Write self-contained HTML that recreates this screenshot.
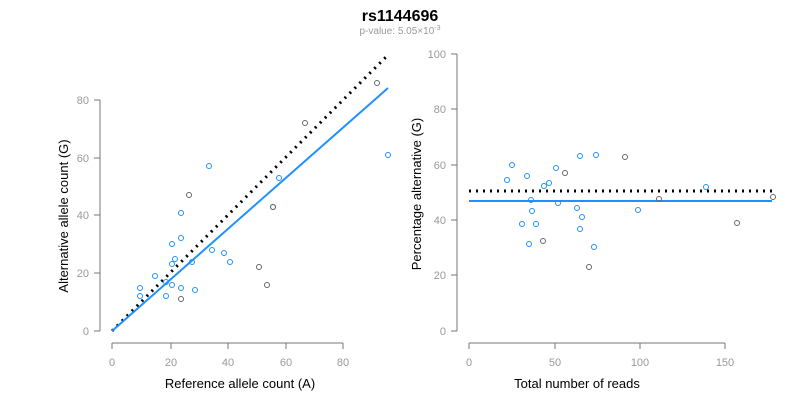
<!DOCTYPE html>
<html><head><meta charset="utf-8"><style>body{margin:0;background:#fff}svg{display:block;font-family:"Liberation Sans",sans-serif}</style></head><body>
<svg width="800" height="400" viewBox="0 0 800 400">
<rect width="800" height="400" fill="#fff"/>
<text x="400" y="21" text-anchor="middle" font-size="16" font-weight="bold">rs1144696</text>
<text x="400" y="34" text-anchor="middle" font-size="10" fill="#999">p-value: 5.05×10<tspan dy="-4" font-size="7">-3</tspan></text>
<g stroke="#777" fill="none">
<path d="M100,100V331M94,100H100M94,158H100M94,215H100M94,273H100M94,331H100"/>
<path d="M112,343H343M112,343v6M171,343v6M228,343v6M286,343v6M343,343v6"/>
<path d="M457,54V331M451,54H457M451,109H457M451,165H457M451,220H457M451,275H457M451,331H457"/>
<path d="M469,343H725M469,343v6M555,343v6M640,343v6M725,343v6"/>
</g>
<g font-size="11" fill="#999" text-anchor="end">
<text x="89" y="104">80</text><text x="89" y="162">60</text><text x="89" y="219">40</text><text x="89" y="277">20</text><text x="89" y="335">0</text>
<text x="446" y="58">100</text><text x="446" y="113">80</text><text x="446" y="169">60</text><text x="446" y="224">40</text><text x="446" y="279">20</text><text x="446" y="335">0</text>
</g>
<g font-size="11" fill="#999" text-anchor="middle">
<text x="112" y="366">0</text><text x="171" y="366">20</text><text x="228" y="366">40</text><text x="286" y="366">60</text><text x="343" y="366">80</text>
<text x="469" y="366">0</text><text x="555" y="366">50</text><text x="640" y="366">100</text><text x="725" y="366">150</text>
</g>
<g font-size="13" fill="#000" text-anchor="middle">
<text x="240" y="388">Reference allele count (A)</text>
<text x="577" y="388">Total number of reads</text>
<text transform="translate(68,216) rotate(-90)">Alternative allele count (G)</text>
<text transform="translate(421,194) rotate(-90)">Percentage alternative (G)</text>
</g>
<path d="M112,331L386,57" stroke="#000" stroke-width="3" stroke-dasharray="2,5" fill="none"/>
<path d="M112,331L388,88" stroke="#1e90ff" stroke-width="2" fill="none"/>
<path d="M469,191H772" stroke="#000" stroke-width="3" stroke-dasharray="2,5" fill="none"/>
<path d="M469,201H772" stroke="#1e90ff" stroke-width="2" fill="none"/>
<g fill="none" stroke="#1e90ff" stroke-width="1">
<circle cx="388" cy="155" r="2.5"/><circle cx="279" cy="178" r="2.5"/><circle cx="273" cy="207" r="2.5"/><circle cx="209" cy="166" r="2.5"/><circle cx="181" cy="238" r="2.5"/><circle cx="172" cy="244" r="2.5"/><circle cx="175" cy="259" r="2.5"/><circle cx="172" cy="264" r="2.5"/><circle cx="155" cy="276" r="2.5"/><circle cx="166" cy="282" r="2.5"/><circle cx="172" cy="285" r="2.5"/><circle cx="181" cy="288" r="2.5"/><circle cx="166" cy="296" r="2.5"/><circle cx="195" cy="290" r="2.5"/><circle cx="192" cy="262" r="2.5"/><circle cx="212" cy="250" r="2.5"/><circle cx="224" cy="253" r="2.5"/><circle cx="230" cy="262" r="2.5"/><circle cx="140" cy="288" r="2.5"/><circle cx="140" cy="296" r="2.5"/><circle cx="181" cy="213" r="2.5"/>
<circle cx="507" cy="180" r="2.5"/><circle cx="512" cy="165" r="2.5"/><circle cx="527" cy="176" r="2.5"/><circle cx="522" cy="224" r="2.5"/><circle cx="529" cy="244" r="2.5"/><circle cx="531" cy="200" r="2.5"/><circle cx="532" cy="211" r="2.5"/><circle cx="536" cy="224" r="2.5"/><circle cx="544" cy="186" r="2.5"/><circle cx="549" cy="183" r="2.5"/><circle cx="556" cy="168" r="2.5"/><circle cx="558" cy="203" r="2.5"/><circle cx="577" cy="208" r="2.5"/><circle cx="580" cy="156" r="2.5"/><circle cx="580" cy="229" r="2.5"/><circle cx="582" cy="217" r="2.5"/><circle cx="594" cy="247" r="2.5"/><circle cx="596" cy="155" r="2.5"/><circle cx="638" cy="210" r="2.5"/><circle cx="706" cy="187" r="2.5"/>
</g>
<g fill="none" stroke="#666" stroke-width="1">
<circle cx="377" cy="83" r="2.5"/><circle cx="305" cy="123" r="2.5"/><circle cx="189" cy="195" r="2.5"/><circle cx="273" cy="207" r="2.5"/><circle cx="259" cy="267" r="2.5"/><circle cx="267" cy="285" r="2.5"/><circle cx="181" cy="299" r="2.5"/>
<circle cx="625" cy="157" r="2.5"/><circle cx="565" cy="173" r="2.5"/><circle cx="543" cy="241" r="2.5"/><circle cx="589" cy="267" r="2.5"/><circle cx="659" cy="199" r="2.5"/><circle cx="737" cy="223" r="2.5"/><circle cx="773" cy="197" r="2.5"/>
</g>
</svg>
</body></html>
